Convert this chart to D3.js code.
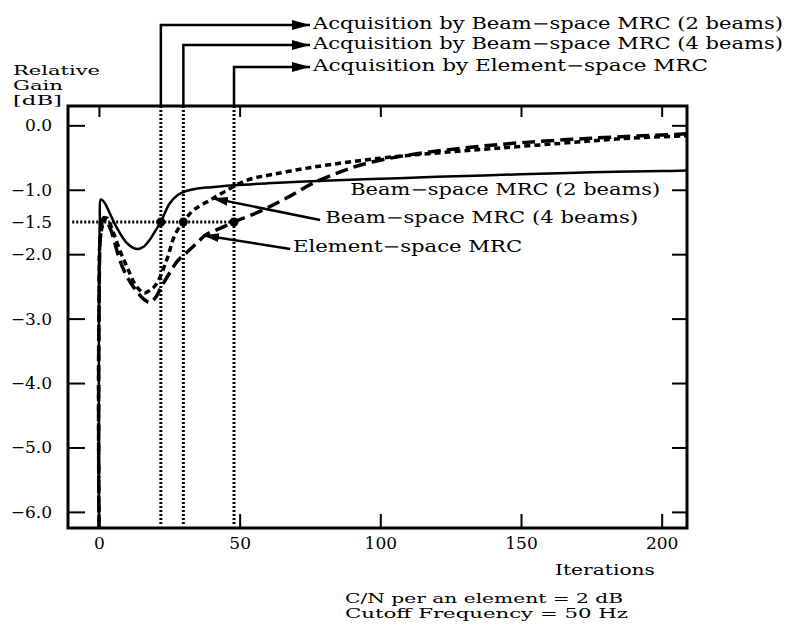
<!DOCTYPE html>
<html>
<head>
  <meta charset="utf-8">
  <title>Relative Gain vs Iterations</title>
  <style>
    body {margin: 0; background: #fff;}
    text {font-family: "DejaVu Serif", "Liberation Serif", serif; fill: #000;}
  </style>
</head>
<body>
  <script src="https://cdn.jsdelivr.net/npm/d3@7/dist/d3.min.js"></script>
  <script>
    // values: [iteration, relative gain dB]
    var beam2 = [[0,-6.3],[0,-3],[0.3,-1.5],[0.7,-1.15],[2,-1.2],[4,-1.38],[6.5,-1.6],[10,-1.83],
      [13.5,-1.92],[16,-1.88],[18,-1.78],[20,-1.64],[22,-1.5],[25,-1.22],[28,-1.08],[31,-1.02],
      [35,-0.98],[40,-0.96],[48,-0.93],[60,-0.9],[80,-0.86],[100,-0.83],[120,-0.8],[150,-0.76],
      [175,-0.73],[200,-0.71],[210,-0.7]];
    var beam4 = [[0,-6.3],[0,-3],[1,-1.6],[2.8,-1.44],[5,-1.65],[7.5,-1.95],[10,-2.2],[13,-2.48],
      [16,-2.6],[18.5,-2.55],[20.6,-2.45],[24,-2.1],[27,-1.7],[30,-1.5],[33.5,-1.32],[39.5,-1.16],
      [45,-1.02],[52.7,-0.85],[62,-0.76],[76,-0.65],[100,-0.51],[120,-0.43],[140,-0.36],
      [164,-0.28],[185,-0.21],[210,-0.16]];
    var element = [[0,-6.3],[0,-3],[0.8,-1.6],[1.8,-1.43],[4,-1.6],[7.5,-2.1],[10,-2.35],[13.5,-2.58],
      [16,-2.7],[18,-2.75],[20,-2.68],[22,-2.52],[25,-2.3],[28,-2.1],[31,-1.98],[35,-1.82],[38,-1.7],
      [43,-1.6],[48,-1.5],[58,-1.32],[67,-1.12],[76,-0.9],[86,-0.72],[95,-0.59],[110,-0.46],
      [130,-0.35],[150,-0.27],[175,-0.2],[200,-0.15],[210,-0.13]];

    var acqIters = [22, 30, 48];
    var acqGain = -1.5;
    var acqLabels = ["Acquisition by Beam\u2212space MRC (2 beams)",
                     "Acquisition by Beam\u2212space MRC (4 beams)",
                     "Acquisition by Element\u2212space MRC"];

    var yTicks = [0, -1, -1.5, -2, -3, -4, -5, -6];
    var yTickLabels = ["0.0", "\u22121.0", "\u22121.5", "\u22122.0", "\u22123.0", "\u22124.0", "\u22125.0", "\u22126.0"];
    var xTicks = [0, 50, 100, 150, 200];

    var width = 795, height = 626;

    var x = d3.scaleLinear().domain([-11, 209]).range([68, 687]);
    var y = d3.scaleLinear().domain([-6.25, 0.3]).range([528, 106]);

    var svg = d3.select("body").append("svg")
      .attr("width", width)
      .attr("height", height);

    // arrow heads
    var defs = svg.append("defs");
    defs.append("marker").attr("id", "bigHead")
      .attr("markerUnits", "userSpaceOnUse")
      .attr("markerWidth", 20).attr("markerHeight", 12)
      .attr("refX", 18).attr("refY", 5).attr("orient", "auto")
      .append("path").attr("d", "M0,0 L18,5 L0,10 Z");
    defs.append("marker").attr("id", "smallHead")
      .attr("markerUnits", "userSpaceOnUse")
      .attr("markerWidth", 18).attr("markerHeight", 12)
      .attr("refX", 16).attr("refY", 4.5).attr("orient", "auto")
      .append("path").attr("d", "M0,0 L16,4.5 L0,9 Z");
    defs.append("clipPath").attr("id", "plotClip")
      .append("rect")
      .attr("x", x(-11)).attr("y", y(0.3))
      .attr("width", x(209) - x(-11)).attr("height", y(-6.25) - y(0.3));

    // axes: ticks point inward
    var leftAxis = svg.append("g")
      .attr("transform", "translate(" + x(-11) + ",0)")
      .call(d3.axisLeft(y).tickValues(yTicks).tickSize(-17).tickPadding(16)
        .tickFormat(function (d, i) { return yTickLabels[i]; }));
    leftAxis.selectAll("line").filter(function (d) { return d === -1.5; }).remove();

    var rightAxis = svg.append("g")
      .attr("transform", "translate(" + x(209) + ",0)")
      .call(d3.axisRight(y).tickValues(yTicks.filter(function (d) { return d !== -1.5; }))
        .tickSize(-15).tickFormat(""));

    var bottomAxis = svg.append("g")
      .attr("transform", "translate(0," + y(-6.25) + ")")
      .call(d3.axisBottom(x).tickValues(xTicks).tickSize(-14).tickPadding(9));

    var topAxis = svg.append("g")
      .attr("transform", "translate(0," + y(0.3) + ")")
      .call(d3.axisTop(x).tickValues(xTicks).tickSize(-11).tickFormat(""));

    svg.selectAll(".domain").remove();
    svg.selectAll(".tick line").attr("stroke", "#000").attr("stroke-width", 2);
    svg.selectAll(".tick text").style("font-family", "DejaVu Serif").style("font-size", "17px");

    // frame
    svg.append("rect")
      .attr("x", x(-11)).attr("y", y(0.3))
      .attr("width", x(209) - x(-11)).attr("height", y(-6.25) - y(0.3))
      .attr("fill", "none").attr("stroke", "#000").attr("stroke-width", 3);

    // acquisition marker lines
    var rowY = [25, 45, 67];
    acqIters.forEach(function (it, i) {
      svg.append("line")
        .attr("x1", x(it)).attr("x2", x(it))
        .attr("y1", y(0.3)).attr("y2", y(-6.2))
        .attr("stroke", "#000").attr("stroke-width", 3)
        .attr("stroke-dasharray", "2,2");
      svg.append("path")
        .attr("d", "M" + x(it) + "," + y(0.3) + " V" + rowY[i] + " H310")
        .attr("fill", "none").attr("stroke", "#000").attr("stroke-width", 2.5)
        .attr("marker-end", "url(#bigHead)");
      svg.append("text")
        .attr("x", 313).attr("y", rowY[i] + 4)
        .attr("textLength", i < 2 ? 470 : 395).attr("lengthAdjust", "spacingAndGlyphs")
        .style("font-size", "16px")
        .text(acqLabels[i]);
    });

    svg.append("line")
      .attr("x1", x(-9.5)).attr("x2", x(48))
      .attr("y1", y(acqGain)).attr("y2", y(acqGain))
      .attr("stroke", "#000").attr("stroke-width", 3)
      .attr("stroke-dasharray", "2,2");

    // curves
    var line = d3.line()
      .x(function (d) { return x(d[0]); })
      .y(function (d) { return y(d[1]); })
      .curve(d3.curveCatmullRom.alpha(0.5));

    var curves = svg.append("g").attr("clip-path", "url(#plotClip)");
    curves.append("path").datum(element).attr("d", line)
      .attr("fill", "none").attr("stroke", "#000").attr("stroke-width", 3.5)
      .attr("stroke-dasharray", "13,6");
    curves.append("path").datum(beam4).attr("d", line)
      .attr("fill", "none").attr("stroke", "#000").attr("stroke-width", 3.5)
      .attr("stroke-dasharray", "6,4");
    curves.append("path").datum(beam2).attr("d", line)
      .attr("fill", "none").attr("stroke", "#000").attr("stroke-width", 2.5);

    svg.selectAll(".acqdot").data(acqIters).enter().append("circle")
      .attr("class", "acqdot")
      .attr("cx", function (d) { return x(d); })
      .attr("cy", y(acqGain))
      .attr("r", 4.5);

    // curve labels
    var notes = [
      {label: "Beam\u2212space MRC (2 beams)", tx: 89.3, ty: -1.085, w: 310},
      {label: "Beam\u2212space MRC (4 beams)", tx: 80.4, ty: -1.52, w: 313, from: [78.6, -1.47], to: [40.2, -1.13]},
      {label: "Element\u2212space MRC", tx: 69, ty: -1.97, w: 229, from: [68, -1.92], to: [37, -1.705]}
    ];
    notes.forEach(function (n) {
      svg.append("text")
        .attr("x", x(n.tx)).attr("y", y(n.ty))
        .attr("textLength", n.w).attr("lengthAdjust", "spacingAndGlyphs")
        .style("font-size", "16px")
        .text(n.label);
      if (n.from) {
        svg.append("line")
          .attr("x1", x(n.from[0])).attr("y1", y(n.from[1]))
          .attr("x2", x(n.to[0])).attr("y2", y(n.to[1]))
          .attr("stroke", "#000").attr("stroke-width", 2.5)
          .attr("marker-end", "url(#smallHead)");
      }
    });

    // axis titles and caption
    var yTitle = ["Relative", "Gain", "[dB]"];
    var yTitleW = [87, 50, 49];
    yTitle.forEach(function (t, i) {
      svg.append("text")
        .attr("x", 13).attr("y", 75 + i * 15)
        .attr("textLength", yTitleW[i]).attr("lengthAdjust", "spacingAndGlyphs")
        .style("font-size", "13.5px")
        .text(t);
    });

    svg.append("text")
      .attr("x", 555).attr("y", 575)
      .attr("textLength", 100).attr("lengthAdjust", "spacingAndGlyphs")
      .style("font-size", "15px")
      .text("Iterations");

    svg.append("text")
      .attr("x", 345).attr("y", 603)
      .attr("textLength", 278).attr("lengthAdjust", "spacingAndGlyphs")
      .style("font-size", "13.5px")
      .text("C/N per an element = 2 dB");
    svg.append("text")
      .attr("x", 345).attr("y", 618)
      .attr("textLength", 283).attr("lengthAdjust", "spacingAndGlyphs")
      .style("font-size", "13.5px")
      .text("Cutoff Frequency = 50 Hz");
  </script>
</body>
</html>
